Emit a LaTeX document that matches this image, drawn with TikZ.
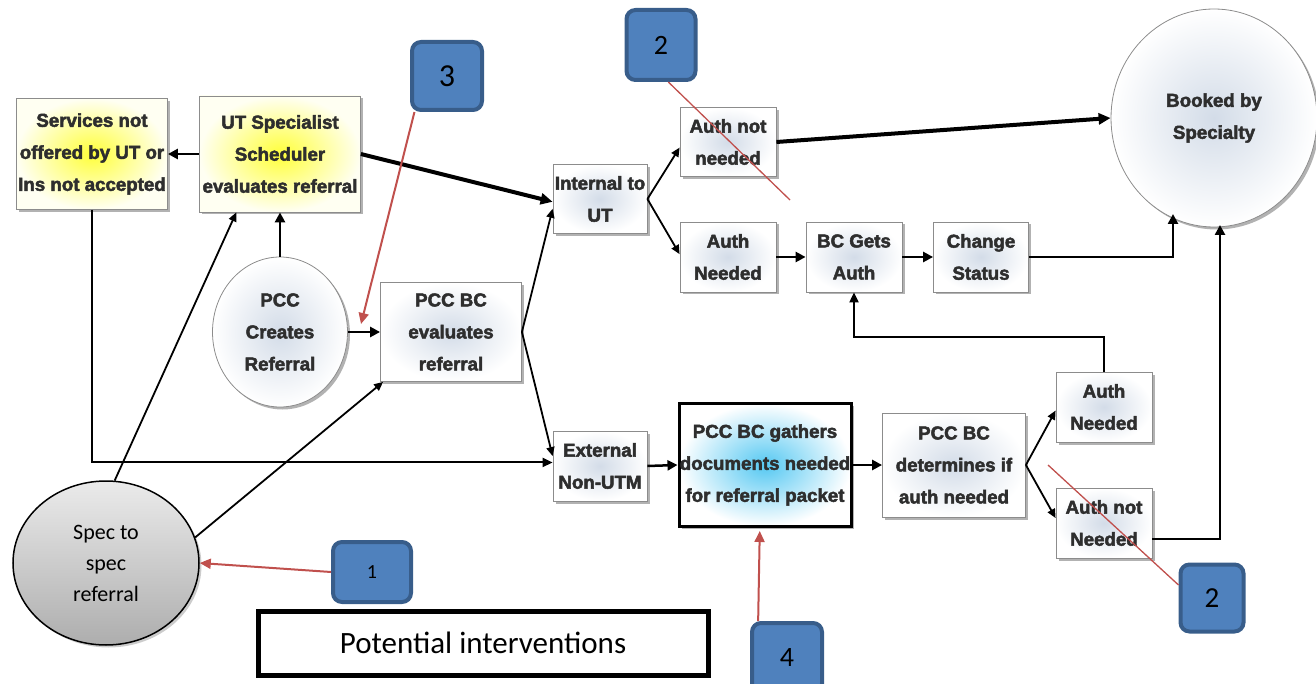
\documentclass[tikz,border=0pt]{standalone}
\usepackage{fontspec}
\setmainfont{Liberation Sans}
\newfontfamily\hb[BoldFeatures={FakeBold=2.5}]{Liberation Sans}
\newfontfamily\calib{Carlito}
\usetikzlibrary{shapes.geometric,shadows,arrows.meta,calc}
\definecolor{txt}{HTML}{2E2E2E}
\definecolor{boxc}{HTML}{D3DCE8}
\definecolor{yel}{HTML}{FFFF3A}
\definecolor{yelout}{HTML}{FFFFF2}
\definecolor{cyanc}{HTML}{55C8F2}
\definecolor{rd}{HTML}{C0504D}
\definecolor{nb}{HTML}{4F81BD}
\definecolor{nbd}{HTML}{385D8A}
\begin{document}
\begin{tikzpicture}[x=1pt,y=-1pt,
  box/.style={rectangle, draw=black!45, line width=0.8pt, inner color=boxc, outer color=white,
    drop shadow={shadow xshift=2.5pt,shadow yshift=-2.5pt,fill=black!60},
    text=txt, font=\hb\bfseries\fontsize{18.7}{32}\selectfont, align=center, inner sep=0pt},
  ybox/.style={box, inner color=yel, outer color=yelout},
  ell/.style={box, ellipse},
  arr/.style={line width=2.5pt, -{Triangle[length=10pt,width=10pt]}},
  thinarr/.style={line width=1.8pt, -{Triangle[length=9pt,width=8pt]}},
  thickarr/.style={line width=4pt, -{Triangle[length=12pt,width=11pt]}},
  redarr/.style={draw=rd, line width=2pt, -{Triangle[length=11pt,width=10pt]}},
  redln/.style={draw=rd, line width=1.3pt},
  num/.style={rectangle, rounded corners=9pt, fill=nb, draw=nbd, line width=4pt, text=black, inner sep=0pt}
]
\useasboundingbox (0,0) rectangle (1316,684);

% main nodes
\node[ybox, minimum width=151pt, minimum height=111pt] (serv) at (92,154) {Services not\\offered by UT or\\Ins not accepted};
\node[ybox, minimum width=161pt, minimum height=116pt] (uts) at (280,154) {UT Specialist\\Scheduler\\evaluates referral};
\node[ell, minimum width=135pt, minimum height=150pt] (pcc) at (280,332) {PCC\\Creates\\Referral};
\node[box, minimum width=141pt, minimum height=99pt] (pbe) at (451,332) {PCC BC\\evaluates\\referral};
\node[box, minimum width=94pt, minimum height=69pt] (int) at (600,199) {Internal to\\UT};
\node[box, minimum width=96pt, minimum height=69pt] (ant) at (728,142) {Auth not\\needed};
\node[box, minimum width=96pt, minimum height=70pt] (ant2) at (728,257) {Auth\\Needed};
\node[box, minimum width=96pt, minimum height=70pt] (bcg) at (854,257) {BC Gets\\Auth};
\node[box, minimum width=95pt, minimum height=70pt] (chg) at (981,257) {Change\\Status};
\node[ell, minimum width=206pt, minimum height=218pt] (bk) at (1214,118) {Booked by\\Specialty};
\node[box, minimum width=94pt, minimum height=70pt] (ext) at (600,466) {External\\Non-UTM};
\node[box, draw=black, line width=3pt, inner color=cyanc, outer color=white, minimum width=172pt, minimum height=123pt] (gath) at (765,465) {PCC BC gathers\\documents needed\\for referral packet};
\node[box, minimum width=143pt, minimum height=104pt] (det) at (954,465) {PCC BC\\determines if\\auth needed};
\node[box, minimum width=96pt, minimum height=70pt] (an2) at (1104,407) {Auth\\Needed};
\node[box, minimum width=96pt, minimum height=70pt] (anb) at (1104,523) {Auth not\\Needed};
\node[ellipse, draw=black, line width=1.5pt, top color=black!8, bottom color=black!32,
  drop shadow={shadow xshift=2.5pt,shadow yshift=-2.5pt,fill=black!40},
  minimum width=186pt, minimum height=164pt, inner sep=0pt, align=center,
  font=\calib\fontsize{22}{31}\selectfont] (spec) at (106,563) {Spec to\\spec\\referral};

% intervention boxes
\node[num, minimum width=78pt, minimum height=60pt, font=\calib\fontsize{20}{20}\selectfont] (b1) at (372,572) {\raisebox{-4pt}{1}};
\node[num, minimum width=70pt, minimum height=68pt, font=\calib\fontsize{32}{32}\selectfont] (b3) at (447,76) {3};
\node[num, minimum width=69pt, minimum height=70pt, font=\calib\fontsize{28}{28}\selectfont] (b2a) at (661,45) {2};
\node[num, minimum width=63pt, minimum height=67pt, font=\calib\fontsize{29}{29}\selectfont] (b2b) at (1212,598) {\raisebox{-5pt}{2}};
\node[num, minimum width=70pt, minimum height=70pt, font=\calib\fontsize{28}{28}\selectfont] (b4) at (787,658) {\raisebox{-4pt}{4}};
\node[draw=black, line width=5pt, minimum width=450pt, minimum height=64pt, inner sep=0pt,
  font=\calib\fontsize{31}{31}\selectfont] (pot) at (483,643) {Potential interventions};

% black connectors
\draw[arr] (uts.west) -- (serv.east);
\draw[line width=2pt, -{Triangle[length=10pt,width=9pt]}] (serv.south) |- ($(ext.north west)!0.45!(ext.south west)$);
\draw[arr] (pcc.north) -- (uts.south);
\draw[thinarr] (spec.84) -- ($(uts.south west)!0.23!(uts.south east)$);
\draw[thinarr] (spec.16) -- ([xshift=3pt]pbe.south west);
\draw[arr] (pcc.east) -- (pbe.west);
\draw[thickarr] (uts.east) -- ($(int.north west)!0.54!(int.south west)$);
\draw[thinarr] (pbe.east) -- ($(int.north west)!0.64!(int.south west)$);
\draw[thinarr] (pbe.east) -- ($(ext.north west)!0.36!(ext.south west)$);
\draw[thinarr] (int.east) -- ($(ant.north west)!0.58!(ant.south west)$);
\draw[thinarr] (int.east) -- ($(ant2.north west)!0.46!(ant2.south west)$);
\draw[thickarr] (ant.east) -- (bk.west);
\draw[arr] (ant2.east) -- (bcg.west);
\draw[arr] (bcg.east) -- (chg.west);
\coordinate (bk1) at (1173,214);
\coordinate (bk2) at (1220,225);
\draw[arr] (chg.east) -| (bk1);
\draw[line width=2pt, -{Triangle[length=10pt,width=9pt]}] (an2.north) -- ++(0,-35) -| (bcg.south);
\draw[arr] (ext.east) -- (gath.west);
\draw[arr] (gath.east) -- (det.west);
\draw[thinarr] (det.east) -- ($(an2.north west)!0.55!(an2.south west)$);
\draw[thinarr] (det.east) -- ($(anb.north west)!0.43!(anb.south west)$);
\draw[arr] ($(anb.east)+(0,16)$) -| (bk2);

% red connectors
\coordinate (r3) at (361,324);
\coordinate (r2a) at (790,200);
\coordinate (r2b) at (1048,465);
\draw[redarr] (b1.west) -- (spec.east);
\draw[redarr] ($(b3.south west)!0.06!(b3.south east)$) -- (r3);
\draw[redln] ($(b2a.south west)!0.6!(b2a.south east)$) -- (r2a);
\draw[redln] ($(b2b.west)+(0,-13)$) -- (r2b);
\draw[redarr] ($(b4.north west)!0.11!(b4.north east)$) -- ($(gath.south west)!0.47!(gath.south east)+(0,3)$);
\end{tikzpicture}
\end{document}
